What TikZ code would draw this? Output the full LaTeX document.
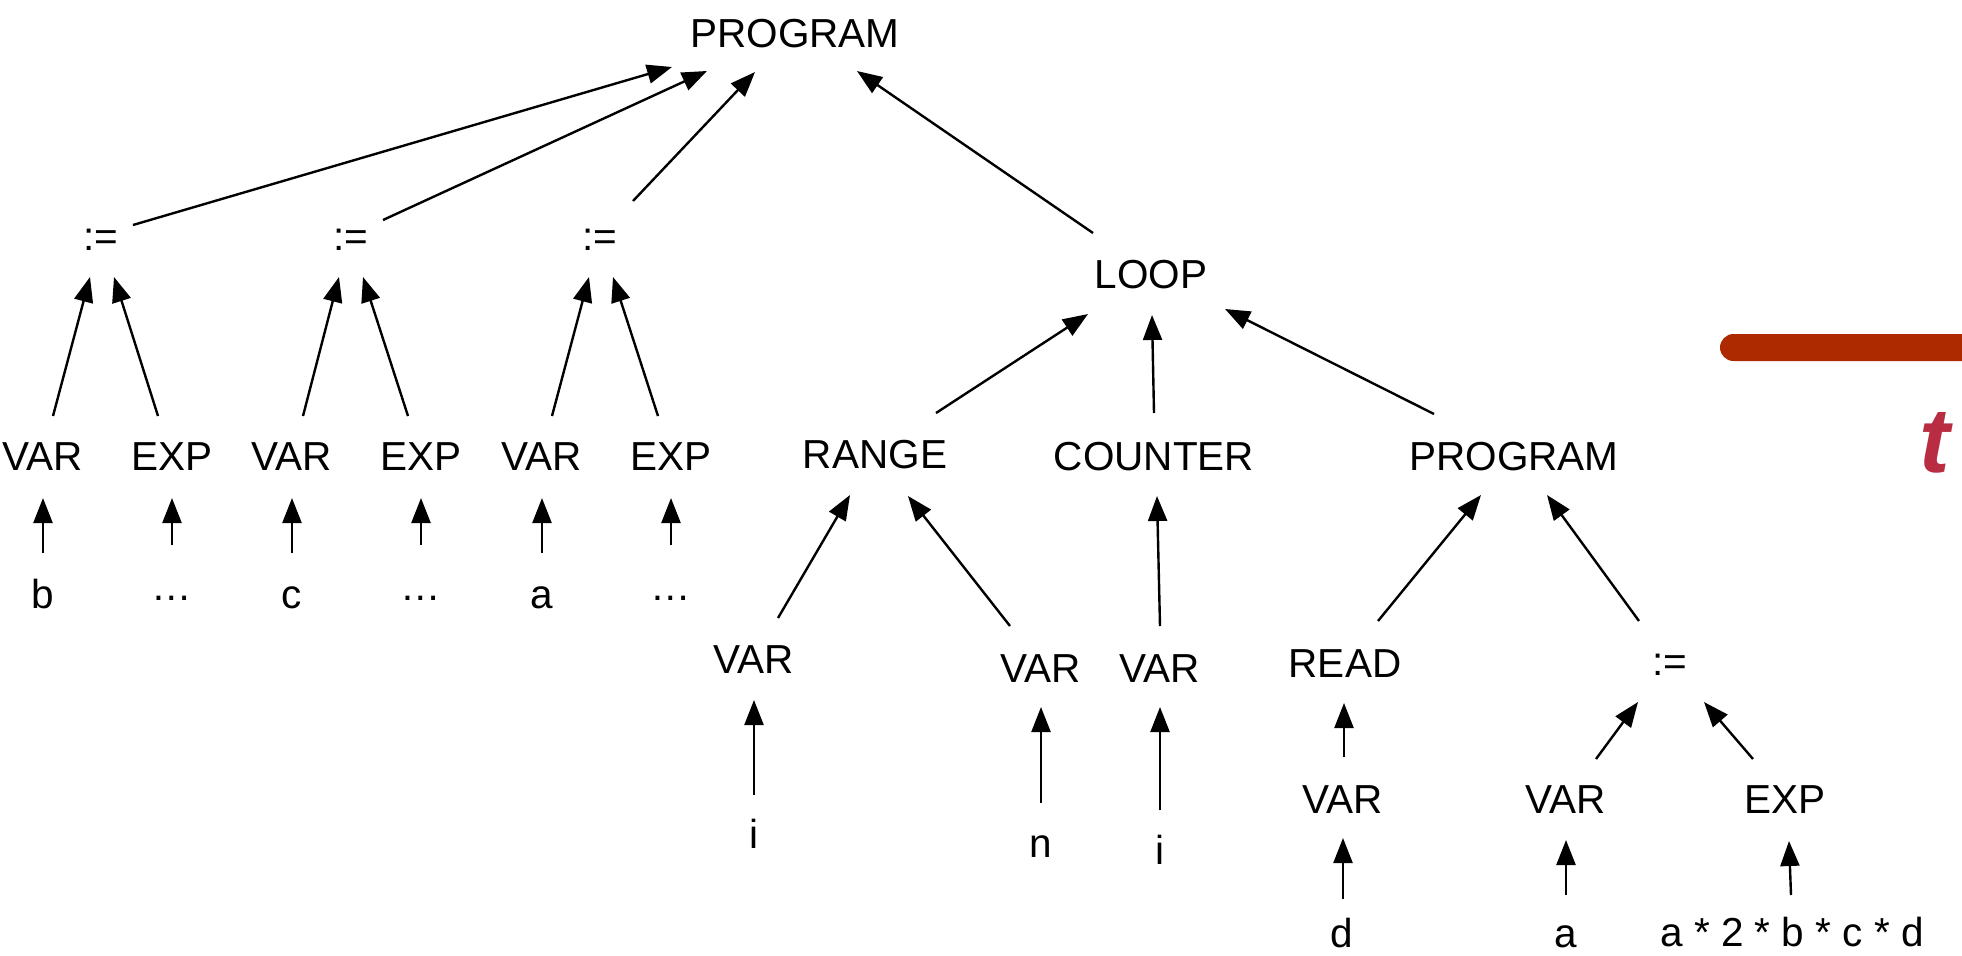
\documentclass[tikz,border=0pt]{standalone}
\usepackage{fontspec}
\setmainfont{Liberation Sans}
\usetikzlibrary{arrows.meta,calc}
\definecolor{barred}{RGB}{173,42,0}
\definecolor{tred}{RGB}{184,45,66}
\newcommand\astedge[6]{\draw[arr] ($(#1.base)+(#2,#3)$) -- ($(#4.base)+(#5,#6)$);}
\begin{document}
\begin{tikzpicture}[x=1bp,y=-1bp,
  lbl/.style={font=\fontsize{40.5bp}{48bp}\selectfont, inner sep=0pt, outer sep=0pt, anchor=base},
  arr/.style={-{Triangle[length=25bp,width=19bp]}, line width=2.4bp, black}]
\useasboundingbox (0,0) rectangle (1962,956);

% nodes
\node[lbl] (p0) at (795,47) {PROGRAM};
\node[lbl] (a1) at (101,250) {:=};
\node[lbl] (a2) at (351,250) {:=};
\node[lbl] (a3) at (600,250) {:=};
\node[lbl] (loop) at (1151,288) {LOOP};

\node[lbl] (v1) at (43,470) {VAR};
\node[lbl] (e1) at (172,470) {EXP};
\node[lbl] (v2) at (292,470) {VAR};
\node[lbl] (e2) at (421,470) {EXP};
\node[lbl] (v3) at (542,470) {VAR};
\node[lbl] (e3) at (671,470) {EXP};
\node[lbl] (rng) at (875,468) {RANGE};
\node[lbl] (cnt) at (1154,470) {COUNTER};
\node[lbl] (p1) at (1514,470) {PROGRAM};

\node[lbl] (lb) at (43,608) {b};
\node[lbl] (d1) at (172,600) {…};
\node[lbl] (lc) at (292,608) {c};
\node[lbl] (d2) at (421,600) {…};
\node[lbl] (la) at (542,608) {a};
\node[lbl] (d3) at (671,600) {…};

\node[lbl] (vr1) at (754,673) {VAR};
\node[lbl] (vr2) at (1041,682) {VAR};
\node[lbl] (vc) at (1160,682) {VAR};
\node[lbl] (rd) at (1345,677) {READ};
\node[lbl] (a4) at (1670,675) {:=};

\node[lbl] (i1) at (754,848) {i};
\node[lbl] (ln) at (1041,857) {n};
\node[lbl] (i2) at (1160,864) {i};

\node[lbl] (vrd) at (1343,813) {VAR};
\node[lbl] (va) at (1566,813) {VAR};
\node[lbl] (ex) at (1785,813) {EXP};

\node[lbl] (ld) at (1342,947) {d};
\node[lbl] (la2) at (1566,947) {a};
\node[lbl] (expr) at (1792,946) {a * 2 * b * c * d};

% connectors
\astedge{a1}{32}{-25}{p0}{-123}{20}
\astedge{a2}{32}{-30}{p0}{-88}{24}
\astedge{a3}{33}{-49}{p0}{-40}{25}
\astedge{loop}{-58}{-55}{p0}{62}{24}

\astedge{v1}{10}{-54}{a1}{-11}{27}
\astedge{e1}{-14}{-54}{a1}{13}{27}
\astedge{v2}{11}{-54}{a2}{-12}{27}
\astedge{e2}{-13}{-54}{a2}{12}{27}
\astedge{v3}{10}{-54}{a3}{-11}{27}
\astedge{e3}{-13}{-54}{a3}{13}{27}

\astedge{lb}{0}{-55}{v1}{0}{28}
\astedge{d1}{0}{-55}{e1}{0}{28}
\astedge{lc}{0}{-55}{v2}{0}{28}
\astedge{d2}{0}{-55}{e2}{0}{28}
\astedge{la}{0}{-55}{v3}{0}{28}
\astedge{d3}{0}{-55}{e3}{0}{28}

\astedge{rng}{61}{-55}{loop}{-63}{26}
\astedge{cnt}{0}{-57}{loop}{1}{27}
\astedge{p1}{-80}{-56}{loop}{74}{21}

\astedge{vr1}{24}{-55}{rng}{-25}{27}
\astedge{vr2}{-31}{-56}{rng}{33}{28}
\astedge{vc}{0}{-56}{cnt}{3}{26}
\astedge{rd}{33}{-56}{p1}{-33}{25}
\astedge{a4}{-31}{-54}{p1}{33}{25}

\astedge{i1}{0}{-53}{vr1}{0}{27}
\astedge{ln}{0}{-54}{vr2}{0}{25}
\astedge{i2}{0}{-54}{vc}{0}{25}
\astedge{vrd}{1}{-56}{rd}{-1}{26}
\astedge{ld}{1}{-48}{vrd}{0}{25}
\astedge{va}{30}{-54}{a4}{-32}{27}
\astedge{ex}{-32}{-54}{a4}{34}{27}
\astedge{la2}{0}{-52}{va}{0}{27}
\astedge{expr}{-1}{-51}{ex}{4}{28}

% red bar and partial title
\begin{scope}
\clip (0,0) rectangle (1962,956);
\fill[barred, rounded corners=13.5bp] (1720,334) rectangle (2010,361);
\node[font=\fontsize{92bp}{96bp}\selectfont\bfseries\itshape, text=tred, anchor=base west, inner sep=0pt] (tt) at (1919,472) {t};
\end{scope}
\end{tikzpicture}
\end{document}
